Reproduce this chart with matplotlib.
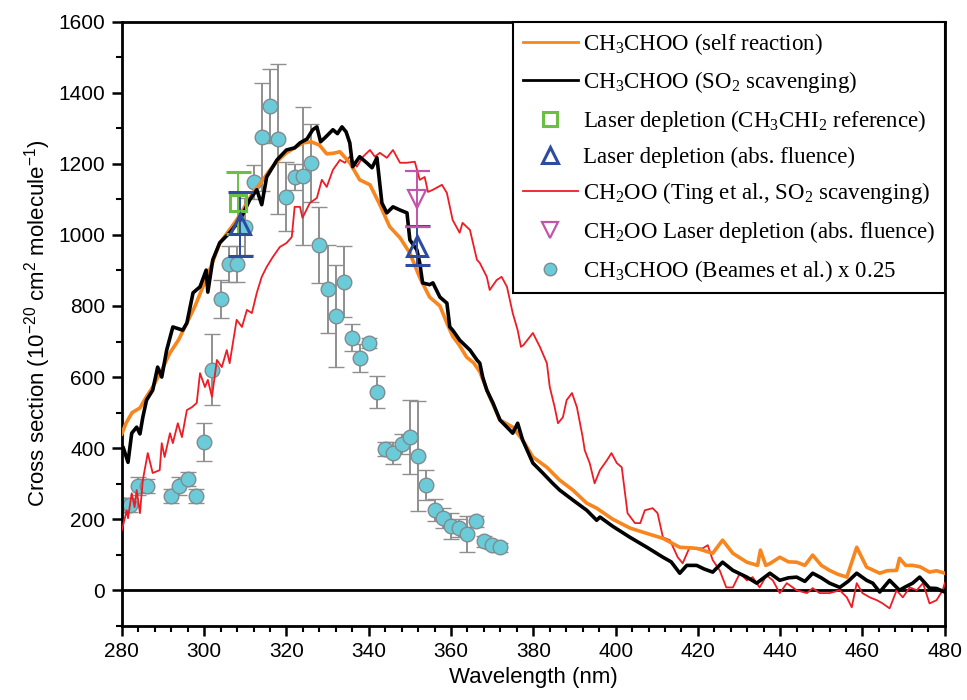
import matplotlib
matplotlib.use("Agg")
import matplotlib.pyplot as plt
from matplotlib.lines import Line2D
from matplotlib.ticker import MultipleLocator

# ---------------- data ----------------
self_x = [280, 281, 282.5, 284.4, 286, 287.5, 289.5, 291.7, 293.8, 295.8, 297.8, 299.7, 301.8, 303.8,
          305.9, 307.9, 309.9, 311.8, 314, 316, 318, 320, 322, 324, 326, 328, 329.8, 331.5, 333,
          335.4, 337.8, 340.3, 342.7, 345.1, 347.6, 350, 352.4, 354.8, 357.3, 359, 360.4, 362, 363.8,
          365.5, 367, 369.4, 371.9, 375, 377.4, 379.9, 383.3, 386.4, 389.6, 393, 395.4, 399.3, 403.5,
          407.6, 411.5, 415.6, 419.7, 423.6, 426, 428.5, 431.9, 434.5, 435.2, 436.5, 437.5, 439.9,
          442, 444, 446, 447.9, 450, 452, 454, 456.2, 458.6, 461, 464.2, 466, 468.3, 469, 470.5,
          472.2, 474, 476.3, 478, 480]
self_y = [440, 470, 500, 513, 545, 572, 615, 668, 705, 752, 800, 854, 915, 977,
          1010, 1042, 1080, 1118, 1150, 1183, 1210, 1231, 1245, 1259, 1262, 1253, 1228, 1230, 1234,
          1203, 1155, 1141, 1085, 1023, 992, 949, 880, 825, 800, 752, 715, 690, 656,
          640, 615, 544, 479, 459, 423, 375, 346, 310, 282, 245, 231, 200, 175,
          160, 146, 121, 118, 104, 141, 104, 79, 70, 113, 70, 75, 93,
          80, 79, 70, 99, 70, 56, 45, 37, 121, 65, 48, 55, 56, 90, 70,
          70, 66, 51, 55, 48]

so2_x = [280, 280.3, 281.5, 282.4, 283.6, 284.4, 285.1, 286, 287.5, 288.7, 289.7, 290.9, 292.4, 294.8,
         295.8, 297.3, 299, 300.5, 300.9, 302.1, 303.8, 306.2, 308.7, 311.1, 312.8, 314, 315.2, 317.7,
         320, 322, 323.3, 325, 326.4, 327.4, 328.3, 329.5, 331.3, 332.4, 333.5, 334.5, 335.4, 336.1,
         337.8, 339.5, 340.8, 342, 343.2, 344.4, 345.9, 347.6, 349.3, 350, 351.7, 352.4, 353.1, 354.8,
         355.6, 357.3, 359, 359.7, 360.4, 362.1, 364.6, 366.3, 367, 367.7, 368.7, 370.2, 371.9, 373.6,
         375, 376.2, 377.4, 379.9, 382.3, 384.7, 386.4, 389.6, 393, 395.4, 396.2, 399.3, 403.5, 407.6,
         411.5, 413.5, 415.6, 417.3, 419.7, 421.5, 423.6, 426, 428.5, 431.9, 434.3, 437.5, 439.9, 442,
         444, 446, 447.9, 450, 452, 454.5, 456.5, 458.6, 461, 462.5, 464.2, 466.6, 469, 470.5, 472.2,
         473.9, 476.3, 478, 480]
so2_y = [395, 403, 360, 442, 459, 440, 487, 535, 563, 628, 600, 676, 741, 732,
         752, 837, 854, 901, 839, 930, 978, 1006, 1042, 1099, 1127, 1085, 1163, 1211,
         1239, 1245, 1259, 1270, 1296, 1304, 1262, 1275, 1296, 1285, 1304, 1290, 1259, 1192,
         1220, 1203, 1189, 1217, 1090, 1062, 1079, 1070, 1062, 986, 958, 921, 865, 860,
         865, 825, 808, 741, 732, 704, 676, 648, 639, 600, 563, 527, 479, 459,
         442, 470, 423, 358, 330, 301, 282, 254, 225, 197, 206, 180, 149, 121,
         93, 80, 48, 70, 70, 60, 51, 79, 56, 37, 20, 48, 28, 35,
         37, 25, 48, 35, 20, 8, 25, 48, 28, 20, -5, 28, 0, 10, 20,
         37, 6, 5, -5]

ting_x = [280, 281.2, 281.5, 282.4, 283.1, 283.6, 284.4, 285.1, 286.3, 287.5, 289.2, 289.7, 290.4, 291.7,
          292.4, 293.6, 294.6, 295.8, 297, 298.2, 299, 300.2, 300.9, 301.9, 303.1, 304.3, 305.5, 306.2,
          307.9, 309.2, 310.4, 311.6, 312.8, 314, 315.2, 316.7, 318.4, 320, 321.3, 322, 323.3, 323.9,
          325.7, 327.4, 328.6, 329.8, 331.3, 333, 334.2, 335.4, 337.1, 338.6, 340.3, 341.5, 342.7, 344.4,
          345.9, 347.6, 349.3, 351.2, 352.4, 353.6, 354.4, 355.6, 357.8, 359, 360.4, 362.1, 362.8, 364.6,
          366.3, 367, 368.7, 369.4, 371.1, 372.3, 373.6, 375, 376.2, 377, 377.6, 379.9, 381.6, 383.3,
          384, 385.2, 386, 387.2, 388.1, 389.4, 390.6, 392, 392.5, 393.7, 394.9, 396.2, 397.9, 399,
          400.3, 401.5, 401.8, 402.9, 404.7, 406, 407.1, 409, 410.2, 411.5, 413.2, 415.1, 416.3, 418,
          419.7, 421.2, 422.4, 423.6, 425.3, 426.9, 428.5, 430.2, 431.9, 433.3, 435, 436.7, 438.2, 439.9,
          441.6, 444, 446.5, 447.9, 449.6, 452, 454.5, 456.2, 457.4, 458.6, 460, 461.8, 463.5, 464.9,
          466.6, 468.3, 469.8, 471.5, 473.2, 474.7, 476.3, 478, 479.5, 480]
ting_y = [169, 225, 203, 273, 234, 282, 217, 310, 386, 330, 338, 414, 375, 442,
          414, 470, 431, 507, 515, 527, 611, 572, 592, 544, 648, 628, 676, 639,
          761, 741, 789, 780, 837, 882, 910, 938, 966, 977, 994, 1079, 1079, 1048,
          1090, 1104, 1155, 1135, 1183, 1211, 1203, 1220, 1192, 1220, 1239, 1220, 1231, 1217,
          1239, 1203, 1203, 1206, 1155, 1163, 1121, 1127, 1141, 1118, 1042, 1006, 1034, 1014,
          930, 921, 882, 845, 873, 882, 854, 780, 732, 685, 690, 724, 685, 639,
          572, 515, 470, 487, 535, 555, 515, 431, 394, 358, 301, 338, 366, 386,
          358, 346, 318, 217, 189, 189, 225, 231, 217, 149, 141, 93, 76, 121,
          118, 118, 127, 85, 56, 8, 8, 48, 28, 37, 8, 42, 28, -8,
          20, 0, -8, 6, -8, -8, 0, -20, -48, 20, -8, -20, -28, -37,
          -51, 0, -20, 8, 0, 20, -37, -28, 0, 20]

beames_x = [280.5, 282, 284, 286, 292, 294, 296, 298, 300, 302, 304, 306, 308, 310, 312, 314, 316, 318,
            320, 322, 324, 326, 328, 330, 332, 334, 336, 338, 340, 342, 344, 346, 348, 350, 352, 354,
            356, 358, 360, 362, 364, 366, 368, 370, 372]
beames_y = [239, 239, 293, 293, 265, 293, 313, 265, 417, 620, 820, 918, 918, 1023, 1149, 1276, 1363, 1270,
            1107, 1163, 1166, 1203, 972, 848, 772, 868, 710, 654, 696, 558, 397, 386, 411, 431, 377, 296,
            225, 203, 180, 175, 158, 194, 138, 127, 121]
beames_err = [20, 20, 25, 20, 20, 25, 20, 20, 53, 100, 53, 50, 50, 80, 48, 152, 104, 211,
              97, 37, 193, 110, 107, 124, 144, 100, 38, 40, 15, 45, 20, 31, 28, 104, 155, 42,
              31, 28, 37, 25, 51, 15, 15, 12, 12]

ref_x, ref_y, ref_err = [308.2], [1090], [88]
abs_x, abs_y, abs_err = [308.6, 351.7], [1030, 970], [90, 56]
ch2oo_x, ch2oo_y, ch2oo_err = [351.7], [1100], [79]

labels = ['CH$_3$CHOO (self reaction)',
          'CH$_3$CHOO (SO$_2$ scavenging)',
          'Laser depletion (CH$_3$CHI$_2$ reference)',
          'Laser depletion (abs. fluence)',
          'CH$_2$OO (Ting et al., SO$_2$ scavenging)',
          'CH$_2$OO Laser depletion (abs. fluence)',
          'CH$_3$CHOO (Beames et al.) x 0.25']

# ---------------- style ----------------
c_orange = '#f7861f'
c_black = '#000000'
c_green = '#6cbf45'
c_blue = '#2d4ba0'
c_red = '#ee1c24'
c_mag = '#c055aa'
c_cyan = '#6ccbd9'
c_gray = '#8f8f8f'

plt.rcParams['font.family'] = ['Liberation Sans', 'DejaVu Sans']
plt.rcParams['mathtext.fontset'] = 'custom'
plt.rcParams['mathtext.rm'] = 'Liberation Serif'
plt.rcParams['mathtext.sf'] = 'Liberation Sans'

fig = plt.figure(figsize=(9.67, 7.0), dpi=100)
ax = fig.add_axes([0.126, 0.106, 0.851, 0.863])

ax.axhline(0, color='black', lw=2.0, zorder=1)

ax.errorbar(beames_x, beames_y, yerr=beames_err, fmt='o', ms=10.5, mfc=c_cyan, mec='#7f8c8f',
            mew=1.0, ecolor=c_gray, elinewidth=1.4, capsize=6, capthick=1.4, zorder=2)
ax.plot(ting_x, ting_y, color=c_red, lw=1.3, zorder=3)
ax.plot(self_x, self_y, color=c_orange, lw=2.6, zorder=4)
ax.plot(so2_x, so2_y, color=c_black, lw=2.6, zorder=5)
ax.errorbar(ref_x, ref_y, yerr=ref_err, fmt='s', ms=11, mfc='none', mec=c_green, mew=2.2,
            ecolor=c_green, elinewidth=1.4, capsize=9, capthick=1.4, zorder=6)
ax.errorbar(abs_x, abs_y, yerr=abs_err, fmt='^', ms=14, mfc='none', mec=c_blue, mew=2.2,
            ecolor=c_blue, elinewidth=1.4, capsize=9, capthick=1.4, zorder=6)
ax.errorbar(ch2oo_x, ch2oo_y, yerr=ch2oo_err, fmt='v', ms=13, mfc='none', mec=c_mag, mew=1.6,
            ecolor=c_mag, elinewidth=1.4, capsize=9, capthick=1.4, zorder=6)

ax.set_xlim(280, 480)
ax.set_ylim(-100, 1600)
ax.xaxis.set_major_locator(MultipleLocator(20))
ax.xaxis.set_minor_locator(MultipleLocator(4))
ax.yaxis.set_major_locator(MultipleLocator(200))
ax.yaxis.set_minor_locator(MultipleLocator(100))
ax.tick_params(which='major', direction='out', length=7, width=1.8, labelsize=15, pad=5)
ax.tick_params(which='minor', direction='out', length=4, width=1.5)
for s in ax.spines.values():
    s.set_linewidth(2.0)

ax.set_xlabel('Wavelength (nm)', fontsize=16, labelpad=4)
ax.set_ylabel(r'Cross section (10$^{\mathsf{-20}}$ cm$^{\mathsf{2}}$ molecule$^{\mathsf{-1}}$)',
              fontsize=16, labelpad=4)

handles = [
    Line2D([], [], color=c_orange, lw=2.0),
    Line2D([], [], color=c_black, lw=2.0),
    Line2D([], [], ls='none', marker='s', ms=10, mfc='none', mec=c_green, mew=2.2),
    Line2D([], [], ls='none', marker='^', ms=12, mfc='none', mec=c_blue, mew=2.2),
    Line2D([], [], color=c_red, lw=1.3),
    Line2D([], [], ls='none', marker='v', ms=11, mfc='none', mec=c_mag, mew=1.6),
    Line2D([], [], ls='none', marker='o', ms=9, mfc=c_cyan, mec='#7f8c8f', mew=1.0),
]
leg = ax.legend(handles, labels, loc='upper right', borderaxespad=0, fancybox=False,
                framealpha=1, edgecolor='black', handlelength=2.4, handletextpad=0.25,
                labelspacing=0.55, borderpad=0.4,
                prop={'family': 'Liberation Serif', 'size': 16.5})
leg.get_frame().set_linewidth(1.5)

fig.savefig('out.png', dpi=100)
